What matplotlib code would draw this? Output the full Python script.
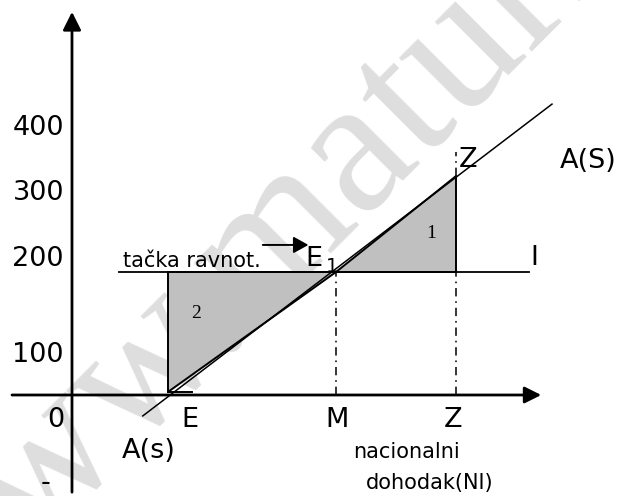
import matplotlib
matplotlib.use("Agg")
import matplotlib.pyplot as plt

plt.rcParams['lines.scale_dashes'] = False
plt.rcParams['font.family'] = ['DejaVu Sans']

# ---- schematic data (NI units on x, value units on y) ----
x_labels = ["E", "M", "Z"]
x_points = [80, 220, 320]          # E, M, Z positions on NI axis
y_tick_labels = ["400", "300", "200", "100", "0"]
y_tick_pos = [423, 317, 210, 54, -52]  # baseline positions of the printed labels
I_level = 200                      # investment line I
I_span = [39, 381]
AS_x = [59, 400]                   # saving line A(S)
AS_y = [-34, 473]
tri1_x = [220, 320, 320]           # surplus area 1
tri1_y = [200, 356, 200]
tri2_x = [80, 80, 220]             # deficit area 2
tri2_y = [200, 5, 200]
Z_upper = [356, 395]

fig = plt.figure(figsize=(6.2, 4.96), dpi=100)
ax = fig.add_axes([0, 0, 1, 1])
ax.set_xlim(-60, 456.67)
ax.set_ylim(-164.23, 642.28)
ax.axis('off')

# watermark
ax.text(-117.3, -417.2, "www.maturski.net", fontsize=140, family='Liberation Serif',
        color='#dedede', rotation=45, rotation_mode='anchor', ha='left', va='baseline',
        zorder=0, clip_on=True)

# filled triangles
ax.fill(tri1_x, tri1_y, color='#c0c0c0', zorder=1)
ax.fill(tri2_x, tri2_y, color='#c0c0c0', zorder=1)
ax.plot(tri1_x + [tri1_x[0]], tri1_y + [tri1_y[0]], color='black', lw=1.4, zorder=3)
ax.plot(tri2_x + [tri2_x[0]], tri2_y + [tri2_y[0]], color='black', lw=1.4, zorder=3)
ax.plot([tri2_x[1], tri2_x[1] + 20], [tri2_y[1], tri2_y[1]], color='black', lw=1.4, zorder=3)

# I line and A(S) line
ax.plot(I_span, [I_level, I_level], color='black', lw=1.3, zorder=3)
ax.plot(AS_x, AS_y, color='black', lw=1.1, zorder=3)

# dash-dot guides
dd = (0, (6, 3.5, 1.2, 3.5))
ax.plot([x_points[1]] * 2, [0, I_level], color='black', lw=1.1, linestyle=dd, zorder=2)
ax.plot([x_points[2]] * 2, [0, I_level], color='black', lw=1.1, linestyle=dd, zorder=2)
ax.plot([x_points[2]] * 2, Z_upper, color='black', lw=1.1, linestyle=dd, zorder=2)

# axes with arrows
ax.annotate('', xy=(391, 0), xytext=(-50, 0),
            arrowprops=dict(arrowstyle='-|>,head_length=1.0,head_width=0.5',
                            mutation_scale=10, lw=2.0, color='black', shrinkA=0, shrinkB=0), zorder=4)
ax.annotate('', xy=(0, 623), xytext=(0, -158),
            arrowprops=dict(arrowstyle='-|>,head_length=1.1,head_width=0.55',
                            mutation_scale=10, lw=2.0, color='black', shrinkA=0, shrinkB=0), zorder=4)

# arrow tacka ravnoteze -> E1
ax.annotate('', xy=(197, 244), xytext=(159, 244),
            arrowprops=dict(arrowstyle='-|>,head_length=0.9,head_width=0.5',
                            mutation_scale=10, lw=1.4, color='black', shrinkA=0, shrinkB=0), zorder=4)

big = 19.5
small = 15
for lab, yp in zip(y_tick_labels, y_tick_pos):
    ax.text(-6.7, yp, lab, fontsize=big, ha='right', va='baseline')
ax.text(-21.7, -154.5, "-", fontsize=big, ha='center', va='baseline')

for lab, xp in zip(x_labels, [98.3, 220.8, 317.5]):
    ax.text(xp, -52, lab, fontsize=big, ha='center', va='baseline')

ax.text(41.7, -102.4, "A(s)", fontsize=big, ha='left', va='baseline')
ax.text(279, -102.4, "nacionalni", fontsize=small, ha='center', va='baseline')
ax.text(298, -152.8, "dohodak(NI)", fontsize=small, ha='center', va='baseline')
ax.text(406.7, 369, "A(S)", fontsize=big, ha='left', va='baseline')
ax.text(330, 370.7, "Z", fontsize=big, ha='center', va='baseline')
ax.text(385, 211.4, "I", fontsize=big, ha='center', va='baseline')
ax.text(194.2, 209.8, "E", fontsize=big, ha='left', va='baseline')
ax.text(211.7, 200, "1", fontsize=14, ha='left', va='baseline')
ax.text(42.5, 208, "tačka ravnot.", fontsize=small, ha='left', va='baseline')
ax.text(299, 263.4, "1", fontsize=14, family='Liberation Serif', ha='center', va='center')
ax.text(103.3, 133.3, "2", fontsize=14, family='Liberation Serif', ha='center', va='center')

fig.savefig("out.png", dpi=100)
